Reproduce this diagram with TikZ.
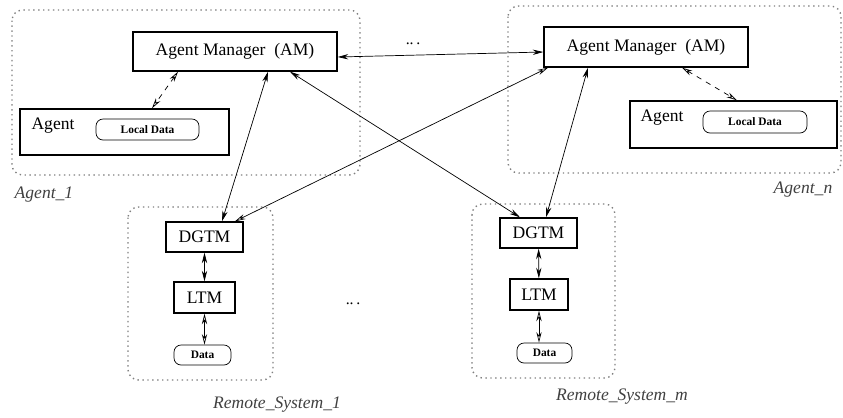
\documentclass[tikz,border=0pt]{standalone}
\usepackage{fontspec}
\setmainfont{Liberation Serif}
\usetikzlibrary{arrows.meta}
\tikzset{
  box/.style={draw, thick, inner sep=0pt, font=\fontsize{10}{12}\selectfont},
  pill/.style={draw, rounded corners=4pt, inner sep=0pt, font=\fontsize{6.5}{8}\selectfont\bfseries},
  frame/.style={draw=gray, dotted, thick, rounded corners=6pt},
  caption/.style={font=\fontsize{10}{12}\selectfont\itshape, text=black!75},
  link/.style={<->, thin, >={Stealth[length=6pt,width=3pt]}},
  olink/.style={<->, thin, >={Stealth[length=6pt,width=3pt,open]}},
}
\begin{document}
\begin{tikzpicture}[x=0.02cm, y=-0.02cm]
    \useasboundingbox (0,0) rectangle (843,417);
    % dotted frames
    \draw [frame] (12,10) rectangle (360,175);
    \draw [frame] (508,6) rectangle (841,173);
    \draw [frame] (128,207) rectangle (273,380);
    \draw [frame] (472,204) rectangle (615,378);
    % agent side
    \node [box, minimum width=4.08cm, minimum height=0.78cm] (am1) at (235,51.5) {Agent Manager\enspace(AM)};
    \node [box, minimum width=4.08cm, minimum height=0.8cm] (amn) at (646,47) {Agent Manager\enspace(AM)};
    \node [box, minimum width=4.18cm, minimum height=0.92cm] (ag1) at (124.5,132) {};
    \node [box, minimum width=4.14cm, minimum height=0.94cm] (agn) at (733.5,124.5) {};
    \node [font=\fontsize{10}{12}\selectfont] (agt1) at (53,126) {Agent};
    \node [font=\fontsize{10}{12}\selectfont] (agtn) at (662,118) {Agent};
    \node [pill, minimum width=2.06cm, minimum height=0.42cm] (ld1) at (147.5,129.5) {Local Data};
    \node [pill, minimum width=2.08cm, minimum height=0.44cm] (ldn) at (755,122) {Local Data};
    % remote systems
    \node [box, minimum width=1.54cm, minimum height=0.6cm] (dg1) at (204.5,237) {DGTM};
    \node [box, minimum width=1.22cm, minimum height=0.62cm] (lt1) at (204.5,297.5) {LTM};
    \node [pill, minimum width=1.14cm, minimum height=0.4cm] (da1) at (202.5,355) {Data};
    \node [box, minimum width=1.54cm, minimum height=0.6cm] (dgm) at (538.5,233) {DGTM};
    \node [box, minimum width=1.16cm, minimum height=0.62cm] (ltm) at (539,294.5) {LTM};
    \node [pill, minimum width=1.1cm, minimum height=0.4cm] (dam) at (544.5,353) {Data};
    % captions
    \node [caption] (cap1) at (44,195) {Agent\_1};
    \node [caption] (capn) at (803,190) {Agent\_n};
    \node [caption] (caps1) at (277,405) {Remote\_System\_1};
    \node [caption] (capsm) at (622,397) {Remote\_System\_m};
    \node [font=\small] (dots1) at (413,44) {..\,.};
    \node [font=\small] (dots2) at (353,304) {..\,.};
    % connectors
    \draw [link] ([yshift=-0.11cm]am1.east) -- ([yshift=-0.1cm]amn.west);
    \draw [olink, dashed] ([xshift=-1.14cm]am1.south) -- ([xshift=0.55cm]ag1.north);
    \draw [olink, dashed] ([xshift=0.72cm]amn.south) -- ([xshift=0.07cm]agn.north);
    \draw [link] ([xshift=0.66cm]am1.south) -- ([xshift=0.35cm]dg1.north);
    \draw [link] ([xshift=1.1cm]am1.south) -- ([xshift=-0.37cm]dgm.north);
    \draw [olink] ([xshift=-1.96cm]amn.south) -- ([xshift=0.61cm]dg1.north);
    \draw [link] ([xshift=-1.16cm]amn.south) -- ([xshift=0.15cm]dgm.north);
    \draw [link] (dg1) -- (lt1);
    \draw [olink] (lt1) -- (lt1 |- da1.north);
    \draw [link] (dgm) -- (ltm);
    \draw [olink] (ltm) -- (ltm |- dam.north);
\end{tikzpicture}
\end{document}
